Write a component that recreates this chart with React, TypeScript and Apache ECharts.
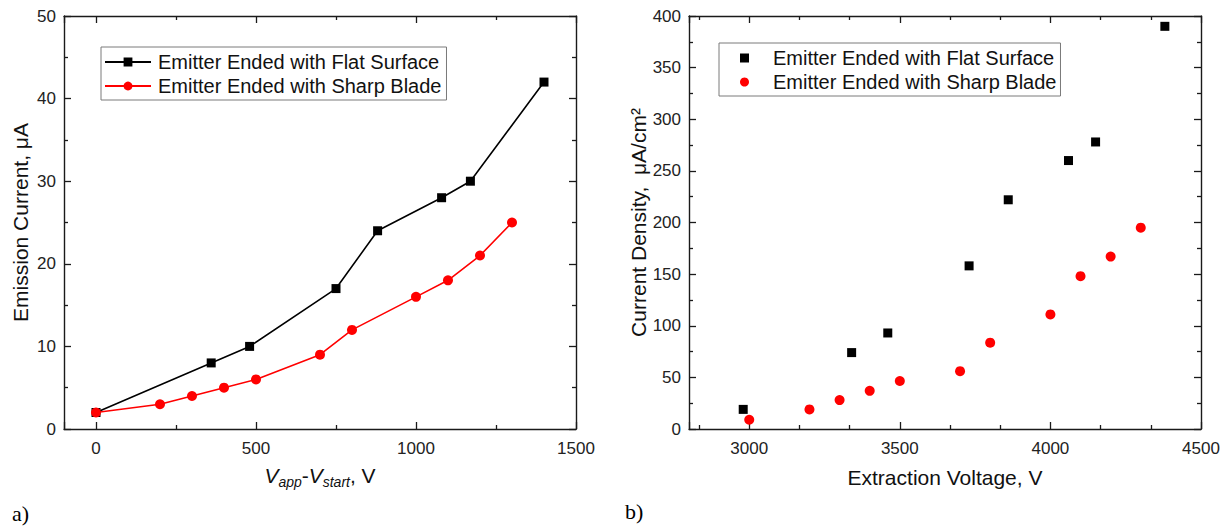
import React, { useEffect, useRef } from "react";
import * as echarts from "echarts";

const seriesNames = ["Emitter Ended with Flat Surface", "Emitter Ended with Sharp Blade"];

// Panel a) : emission current vs Vapp - Vstart
const flatDeltaV = [0, 360, 480, 750, 880, 1080, 1170, 1400];
const flatCurrent = [2, 8, 10, 17, 24, 28, 30, 42];
const bladeDeltaV = [0, 200, 300, 400, 500, 700, 800, 1000, 1100, 1200, 1300];
const bladeCurrent = [2, 3, 4, 5, 6, 9, 12, 16, 18, 21, 25];

// Panel b) : current density vs extraction voltage
const flatVoltage = [2980, 3340, 3460, 3730, 3860, 4060, 4150, 4380];
const flatDensity = [19, 74, 93, 158, 222, 260, 278, 390];
const bladeVoltage = [3000, 3200, 3300, 3400, 3500, 3700, 3800, 4000, 4100, 4200, 4300];
const bladeDensity = [9, 19, 28, 37, 46.5, 56, 83.6, 111, 148, 167, 195];

const zip = (xs: number[], ys: number[]) => xs.map((x, i) => [x, ys[i]]);

const FONT = "Liberation Sans";
const AXIS_COLOR = "#1a1a1a";

function baseX(gridIndex: number, min: number, max: number, minorSplit: number, top: boolean, firstLabel: number) {
  return {
    type: "value",
    gridIndex,
    min,
    max,
    minInterval: 500,
    maxInterval: 500,
    position: top ? "top" : "bottom",
    axisLine: { show: true, onZero: false, lineStyle: { color: AXIS_COLOR, width: 1.4 } },
    axisTick: { show: true, inside: true, length: 7, lineStyle: { color: AXIS_COLOR, width: 1.3 } },
    minorTick: { show: true, splitNumber: minorSplit, length: 4, lineStyle: { color: AXIS_COLOR, width: 1.3 } },
    splitLine: { show: false },
    axisLabel: {
      show: !top,
      margin: 11,
      color: "#222",
      fontFamily: FONT,
      fontSize: 17,
      formatter: (v: number) => (v < firstLabel ? "" : String(v)),
    },
  };
}

function baseY(gridIndex: number, max: number, interval: number, right: boolean) {
  return {
    type: "value",
    gridIndex,
    min: 0,
    max,
    interval,
    position: right ? "right" : "left",
    axisLine: { show: true, onZero: false, lineStyle: { color: AXIS_COLOR, width: 1.4 } },
    axisTick: { show: true, inside: true, length: 7, lineStyle: { color: AXIS_COLOR, width: 1.3 } },
    minorTick: { show: true, splitNumber: 2, length: 4, lineStyle: { color: AXIS_COLOR, width: 1.3 } },
    splitLine: { show: false },
    axisLabel: { show: !right, margin: 8, color: "#222", fontFamily: FONT, fontSize: 17 },
  };
}

export default function App() {
  const ref = useRef<HTMLDivElement>(null);
  useEffect(() => {
    document.body.style.margin = "0";
    if (!ref.current) return;
    const chart = echarts.init(ref.current, null, { renderer: "svg" });

    const xa0: any = baseX(0, -100, 1500, 2, false, 0);
    xa0.name = "{v|V}{s|app}{n|-}{v|V}{s|start}{n|, V}";
    xa0.nameLocation = "middle";
    xa0.nameGap = 34;
    xa0.nameTextStyle = {
      fontFamily: FONT,
      color: "#111",
      rich: {
        v: { fontFamily: FONT, fontSize: 21, fontStyle: "italic", lineHeight: 24, color: "#111" },
        n: { fontFamily: FONT, fontSize: 21, lineHeight: 24, color: "#111" },
        s: { fontFamily: FONT, fontSize: 14, fontStyle: "italic", lineHeight: 16, padding: [13, 0, 0, 0], color: "#111" },
      },
    };
    const xa2: any = baseX(1, 2800, 4500, 3, false, 3000);
    xa2.name = "Extraction Voltage, V";
    xa2.nameLocation = "middle";
    xa2.nameGap = 38;
    xa2.nameTextStyle = { fontFamily: FONT, fontSize: 21, color: "#111" };

    const ya0: any = baseY(0, 50, 10, false);
    ya0.name = "Emission Current, \u03bcA";
    ya0.nameLocation = "middle";
    ya0.nameGap = 33;
    ya0.nameTextStyle = { fontFamily: FONT, fontSize: 21, color: "#111" };
    const ya2: any = baseY(1, 400, 50, false);
    ya2.name = "Current Density,  \u03bcA/cm\u00b2";
    ya2.nameLocation = "middle";
    ya2.nameGap = 38;
    ya2.nameTextStyle = { fontFamily: FONT, fontSize: 21, color: "#111" };

    const option: any = {
      animation: false,
      backgroundColor: "#fff",
      grid: [
        { left: 64, top: 16, width: 512, height: 413 },
        { left: 689, top: 16, width: 512, height: 413 },
      ],
      xAxis: [xa0, baseX(0, -100, 1500, 2, true, 0), xa2, baseX(1, 2800, 4500, 3, true, 3000)],
      yAxis: [ya0, baseY(0, 50, 10, true), ya2, baseY(1, 400, 50, true)],
      legend: [
        {
          orient: "vertical",
          left: 101,
          top: 47,
          padding: [3, 5, 2, 3],
          itemGap: 0,
          itemWidth: 46,
          itemHeight: 11,
          selectedMode: false,
          borderColor: "#7a7a7a",
          borderWidth: 1,
          textStyle: { fontFamily: FONT, fontSize: 20, lineHeight: 24, color: "#111", padding: [0, 0, 0, 2] },
          data: seriesNames,
        },
        {
          orient: "vertical",
          left: 719,
          top: 43,
          padding: [3, 4, 2, 21],
          itemGap: 0,
          itemWidth: 9,
          itemHeight: 9,
          selectedMode: false,
          borderColor: "#7a7a7a",
          borderWidth: 1,
          textStyle: { fontFamily: FONT, fontSize: 20, lineHeight: 24, color: "#111", padding: [0, 0, 0, 19] },
          data: [
            { name: seriesNames[0], icon: "rect" },
            { name: seriesNames[1], icon: "circle" },
          ],
        },
      ],
      graphic: [
        { type: "text", left: 12, top: 502, style: { text: "a)", fontFamily: "Liberation Serif", fontSize: 22, fill: "#000" } },
        { type: "text", left: 625, top: 500, style: { text: "b)", fontFamily: "Liberation Serif", fontSize: 22, fill: "#000" } },
      ],
      series: [
        {
          name: seriesNames[0],
          type: "line",
          xAxisIndex: 0,
          yAxisIndex: 0,
          data: zip(flatDeltaV, flatCurrent),
          symbol: "rect",
          symbolSize: 9,
          color: "#000",
          lineStyle: { color: "#000", width: 1.6 },
          itemStyle: { color: "#000" },
        },
        {
          name: seriesNames[1],
          type: "line",
          xAxisIndex: 0,
          yAxisIndex: 0,
          data: zip(bladeDeltaV, bladeCurrent),
          symbol: "circle",
          symbolSize: 10,
          color: "#ff0000",
          lineStyle: { color: "#ff0000", width: 1.6 },
          itemStyle: { color: "#ff0000" },
        },
        {
          name: seriesNames[0],
          type: "scatter",
          xAxisIndex: 2,
          yAxisIndex: 2,
          data: zip(flatVoltage, flatDensity),
          symbol: "rect",
          symbolSize: 9,
          itemStyle: { color: "#000", opacity: 1 },
        },
        {
          name: seriesNames[1],
          type: "scatter",
          xAxisIndex: 2,
          yAxisIndex: 2,
          data: zip(bladeVoltage, bladeDensity),
          symbol: "circle",
          symbolSize: 10,
          itemStyle: { color: "#ff0000", opacity: 1 },
        },
      ],
    };
    chart.setOption(option);
    return () => chart.dispose();
  }, []);
  return <div ref={ref} style={{ width: 1225, height: 529 }} />;
}
